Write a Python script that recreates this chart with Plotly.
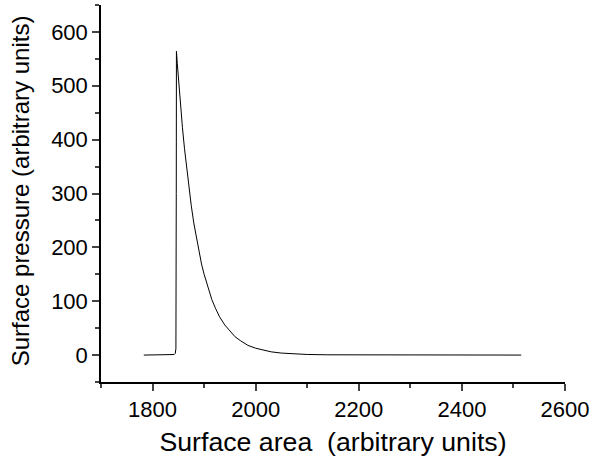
import plotly.graph_objects as go

# Surface area (arbitrary units) and surface pressure (arbitrary units)
area = [1783, 1800, 1820, 1835, 1842, 1844, 1845.3, 1846.0, 1846.3, 1848, 1850, 1854, 1858,
        1862, 1866, 1870, 1875, 1880, 1885, 1890, 1895, 1900, 1907, 1915, 1922, 1930,
        1940, 1950, 1960, 1970, 1985, 2000, 2015, 2030, 2050, 2075, 2100, 2140, 2200,
        2300, 2400, 2515]
pressure = [0, 0, 0, 0, 1, 3, 12, 300, 564, 541, 515, 466, 422,
            383, 347, 314, 278, 245, 217, 192, 169, 150, 126, 103, 87, 71,
            56, 44, 34, 27, 18, 12.7, 8.8, 6.0, 3.7, 2.0, 1.1, 0.5, 0.2,
            0.05, 0, 0]

x_range = [1700, 2600]
y_range = [-50, 650]
x_ticks = [1800, 2000, 2200, 2400, 2600]
y_ticks = [0, 100, 200, 300, 400, 500, 600]

fig = go.Figure()
fig.add_trace(go.Scatter(x=area, y=pressure, mode="lines",
                         line=dict(color="black", width=1), showlegend=False))

font_family = "Liberation Sans, Arial, sans-serif"
fig.update_layout(
    width=594, height=462,
    margin=dict(l=101, r=27, t=5, b=80),
    paper_bgcolor="white", plot_bgcolor="white",
    font=dict(family=font_family, color="black"),
    xaxis=dict(range=x_range, tickvals=x_ticks, ticks="outside", ticklen=7, tickwidth=1.5,
               showline=True, linecolor="black", linewidth=1.5, showgrid=False, zeroline=False,
               tickfont=dict(size=22),
               minor=dict(ticks="outside", ticklen=4, tickwidth=1.5, dtick=100, tick0=1700,
                          showgrid=False),
               title=dict(text="Surface area  (arbitrary units)", font=dict(size=26.7), standoff=11)),
    yaxis=dict(range=y_range, tickvals=y_ticks, ticks="outside", ticklen=7, tickwidth=1.5,
               showline=True, linecolor="black", linewidth=1.5, showgrid=False, zeroline=False,
               tickfont=dict(size=22),
               minor=dict(ticks="outside", ticklen=4, tickwidth=1.5, dtick=50, tick0=-50,
                          showgrid=False)),
    annotations=[dict(text="Surface pressure (arbitrary units)", textangle=-90,
                      xref="paper", yref="paper", x=-0.1727, y=0.508,
                      xanchor="center", yanchor="middle", showarrow=False,
                      font=dict(size=24))],
)

fig.write_html("out.html")
